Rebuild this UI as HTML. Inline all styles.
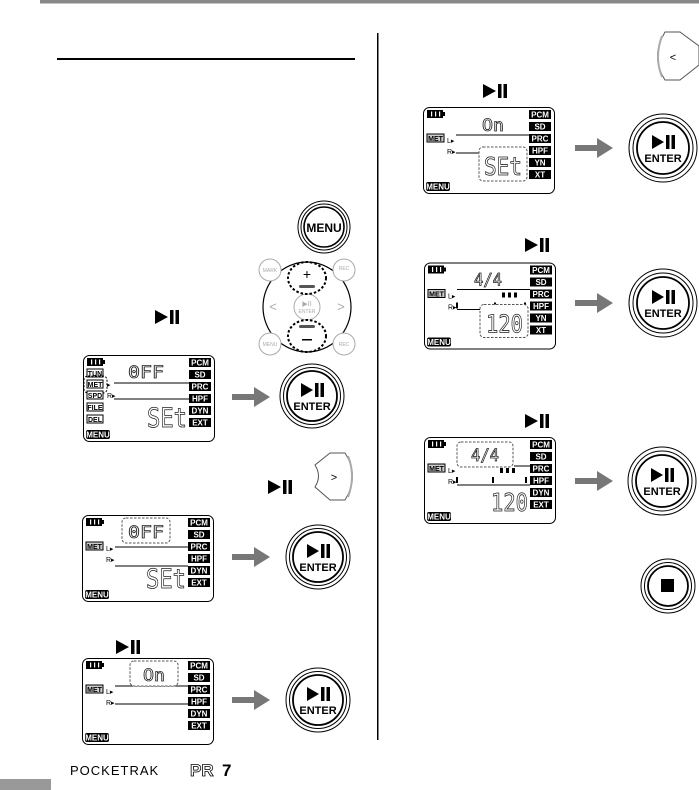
<!DOCTYPE html>
<html><head><meta charset="utf-8"><style>
html,body{margin:0;padding:0;background:#fff}
svg{display:block}
text{font-family:"Liberation Sans",Arial,sans-serif}
.lb{fill:#fff;font-size:8px;font-weight:bold;text-anchor:middle}
.seg{font-family:"DejaVu Sans Mono","Liberation Mono",monospace;fill:#fff;stroke:#222;stroke-width:0.8}
.en{font-size:11px;font-weight:bold;text-anchor:middle}
</style></head><body>
<svg width="699" height="790" viewBox="0 0 699 790" xmlns="http://www.w3.org/2000/svg">
<defs>
<g id="arr"><rect x="0" y="-3" width="26" height="6" fill="#777"/><polygon points="22,-10 38,0 22,10" fill="#777"/></g>
</defs>
<rect x="40" y="0" width="659" height="3.5" fill="#888"/>
<rect x="57" y="58" width="298" height="2" fill="#000"/>
<rect x="377" y="33" width="1.5" height="707" fill="#000"/>
<rect x="0" y="779" width="51" height="11" fill="#999"/>
<text x="70" y="775" font-size="13" letter-spacing="1">POCKETRAK</text>
<text x="190" y="776" font-size="17" font-weight="bold" fill="#fff" stroke="#000" stroke-width="0.8">PR</text><text x="222" y="776" font-size="17" font-weight="bold">7</text>

<!-- MENU button -->
<circle cx="324" cy="227" r="26" fill="#fff" stroke="#000" stroke-width="1"/>
<circle cx="324" cy="227" r="23" fill="none" stroke="#000" stroke-width="1"/>
<circle cx="324" cy="227" r="20" fill="none" stroke="#000" stroke-width="1.6"/>
<text x="324" y="232" font-size="12" font-weight="bold" text-anchor="middle">MENU</text>

<!-- pad -->
<g>
<ellipse cx="307" cy="307" rx="44" ry="45" fill="#fff" stroke="#000" stroke-width="1.2"/>
<circle cx="270" cy="270" r="11" fill="#fff" stroke="#aaa"/><text x="270" y="272" font-size="5" fill="#aaa" text-anchor="middle">MARK</text>
<circle cx="344" cy="270" r="11" fill="#fff" stroke="#aaa"/><text x="344" y="270" font-size="5" fill="#aaa" text-anchor="middle">REC</text>
<circle cx="270" cy="344" r="11" fill="#fff" stroke="#aaa"/><text x="270" y="346" font-size="5" fill="#aaa" text-anchor="middle">MENU</text>
<circle cx="344" cy="344" r="11" fill="#fff" stroke="#aaa"/><text x="344" y="346" font-size="5" fill="#aaa" text-anchor="middle">REC</text>
<circle cx="307" cy="307" r="13" fill="#fff" stroke="#aaa"/>
<text x="307" y="306" font-size="7" fill="#aaa" text-anchor="middle">▶II</text><text x="307" y="313" font-size="5" fill="#aaa" text-anchor="middle">ENTER</text>
<text x="273" y="311" font-size="13" fill="#aaa" text-anchor="middle">&lt;</text>
<text x="341" y="311" font-size="13" fill="#aaa" text-anchor="middle">&gt;</text>
<ellipse cx="307" cy="278" rx="19" ry="16" fill="none" stroke="#000" stroke-width="2" stroke-dasharray="2.5,2"/>
<ellipse cx="307" cy="336" rx="19" ry="16" fill="none" stroke="#000" stroke-width="2" stroke-dasharray="2.5,2"/>
<text x="307" y="279" font-size="14" text-anchor="middle">+</text>
<rect x="299" y="285" width="16" height="3" rx="1.5" fill="#555"/>
<rect x="299" y="325" width="16" height="3" rx="1.5" fill="#555"/>
<rect x="302" y="339" width="10" height="1.5" fill="#000"/>
</g>

<!-- ENTER buttons -->
<g>
<circle cx="312" cy="396" r="32" fill="#fff" stroke="#000"/><circle cx="312" cy="396" r="28.5" fill="none" stroke="#000"/><circle cx="312" cy="396" r="25" fill="none" stroke="#000" stroke-width="1.8"/>
<polygon points="301,383 313,390 301,397" fill="#000"/><rect x="315" y="383" width="3.5" height="14"/><rect x="320.5" y="383" width="3.5" height="14"/>
<text class="en" x="312" y="410">ENTER</text></g>
<g transform="translate(6,161)"><circle cx="312" cy="396" r="32" fill="#fff" stroke="#000"/><circle cx="312" cy="396" r="28.5" fill="none" stroke="#000"/><circle cx="312" cy="396" r="25" fill="none" stroke="#000" stroke-width="1.8"/>
<polygon points="301,383 313,390 301,397" fill="#000"/><rect x="315" y="383" width="3.5" height="14"/><rect x="320.5" y="383" width="3.5" height="14"/>
<text class="en" x="312" y="410">ENTER</text></g>
<g transform="translate(6,304)"><circle cx="312" cy="396" r="32" fill="#fff" stroke="#000"/><circle cx="312" cy="396" r="28.5" fill="none" stroke="#000"/><circle cx="312" cy="396" r="25" fill="none" stroke="#000" stroke-width="1.8"/>
<polygon points="301,383 313,390 301,397" fill="#000"/><rect x="315" y="383" width="3.5" height="14"/><rect x="320.5" y="383" width="3.5" height="14"/>
<text class="en" x="312" y="410">ENTER</text></g>
<g transform="translate(351,-248)"><circle cx="312" cy="396" r="34" fill="#fff" stroke="#000"/><circle cx="312" cy="396" r="30" fill="none" stroke="#000"/><circle cx="312" cy="396" r="26" fill="none" stroke="#000" stroke-width="1.8"/>
<polygon points="301,383 313,390 301,397" fill="#000"/><rect x="315" y="383" width="3.5" height="14"/><rect x="320.5" y="383" width="3.5" height="14"/>
<text class="en" x="312" y="410">ENTER</text></g>
<g transform="translate(351,-93)"><circle cx="312" cy="396" r="34" fill="#fff" stroke="#000"/><circle cx="312" cy="396" r="30" fill="none" stroke="#000"/><circle cx="312" cy="396" r="26" fill="none" stroke="#000" stroke-width="1.8"/>
<polygon points="301,383 313,390 301,397" fill="#000"/><rect x="315" y="383" width="3.5" height="14"/><rect x="320.5" y="383" width="3.5" height="14"/>
<text class="en" x="312" y="410">ENTER</text></g>
<g transform="translate(350,85)"><circle cx="312" cy="396" r="34" fill="#fff" stroke="#000"/><circle cx="312" cy="396" r="30" fill="none" stroke="#000"/><circle cx="312" cy="396" r="26" fill="none" stroke="#000" stroke-width="1.8"/>
<polygon points="301,383 313,390 301,397" fill="#000"/><rect x="315" y="383" width="3.5" height="14"/><rect x="320.5" y="383" width="3.5" height="14"/>
<text class="en" x="312" y="410">ENTER</text></g>
<!-- stop -->
<circle cx="668" cy="586" r="27" fill="#fff" stroke="#000"/><circle cx="668" cy="586" r="23.5" fill="none" stroke="#000"/><circle cx="668" cy="586" r="20" fill="none" stroke="#000" stroke-width="1.8"/>
<rect x="661" y="579" width="13" height="13" fill="#000"/>

<!-- arrows -->
<use href="#arr" x="232" y="397"/>
<use href="#arr" x="232" y="557"/>
<use href="#arr" x="232" y="700"/>
<use href="#arr" x="575" y="148"/>
<use href="#arr" x="575" y="303"/>
<use href="#arr" x="575" y="481"/>

<!-- small > and < buttons -->
<path d="M345,453 Q360,476 345,500 L330,500 L315,487 Q322,476 315,465 L330,453 Z" fill="#fff" stroke="#555"/>
<path d="M348,456 Q356,476 348,497" fill="none" stroke="#aaa" stroke-width="2"/>
<text x="334" y="481" font-size="11" text-anchor="middle">&gt;</text>
<path d="M665,32 Q650,57 665,80 L680,80 L699,65 L699,46 L680,32 Z" fill="#fff" stroke="#555"/>
<path d="M662,36 Q654,57 662,77" fill="none" stroke="#aaa" stroke-width="2"/>
<text x="673" y="61" font-size="11" text-anchor="middle">&lt;</text>

<!-- ▶II marks -->
<g fill="#000">
<polygon points="155,310 168,317 155,324"/><rect x="170" y="310" width="3.5" height="14"/><rect x="175.5" y="310" width="3.5" height="14"/>
<polygon points="268,480 281,487 268,494"/><rect x="283" y="480" width="3.5" height="14"/><rect x="288.5" y="480" width="3.5" height="14"/>
<polygon points="116,640 129,647 116,654"/><rect x="131" y="640" width="3.5" height="14"/><rect x="136.5" y="640" width="3.5" height="14"/>
<polygon points="483,84 496,91 483,98"/><rect x="498" y="84" width="3.5" height="14"/><rect x="503.5" y="84" width="3.5" height="14"/>
<polygon points="525,238 538,245 525,252"/><rect x="540" y="238" width="3.5" height="14"/><rect x="545.5" y="238" width="3.5" height="14"/>
<polygon points="525,414 538,421 525,428"/><rect x="540" y="414" width="3.5" height="14"/><rect x="545.5" y="414" width="3.5" height="14"/>
</g>

<!-- LCD 1 -->
<svg x="83" y="355" width="132" height="87" viewBox="0 0 132 87">
<rect x="0.5" y="0.5" width="131" height="86" rx="6" fill="#fff" stroke="#000"/>
<rect x="4" y="3" width="16" height="8"/><rect x="20" y="5" width="2" height="4"/><rect x="8" y="4.5" width="1.2" height="5" fill="#fff"/><rect x="12" y="4.5" width="1.2" height="5" fill="#fff"/><rect x="16" y="4.5" width="1.2" height="5" fill="#fff"/>
<rect x="4" y="14" width="16" height="8" fill="#fff" stroke="#000"/><text x="12" y="21" font-size="7" text-anchor="middle" font-weight="bold">TUN</text>
<rect x="4" y="25" width="16" height="8" fill="#fff" stroke="#000"/><text x="12" y="32" font-size="7" text-anchor="middle" font-weight="bold">MET</text>
<rect x="1" y="21" width="23" height="17" rx="4" fill="none" stroke="#000" stroke-dasharray="2,1.5"/>
<rect x="4" y="36" width="16" height="8" fill="#fff" stroke="#000"/><text x="12" y="43" font-size="7" text-anchor="middle" font-weight="bold">SPD</text>
<rect x="4" y="48" width="16" height="8" fill="#fff" stroke="#000"/><text x="12" y="55" font-size="7" text-anchor="middle" font-weight="bold">FILE</text>
<rect x="4" y="60" width="16" height="8" fill="#fff" stroke="#000"/><text x="12" y="67" font-size="7" text-anchor="middle" font-weight="bold">DEL</text>
<rect x="3" y="75" width="24" height="9" rx="2"/><text class="lb" x="15" y="82.5">MENU</text>
<text x="24" y="43" font-size="7">R▸</text><text x="24" y="32" font-size="7">▸</text>
<line x1="31" y1="28" x2="106" y2="28" stroke="#000"/><line x1="31" y1="44" x2="106" y2="44" stroke="#000"/>
<text class="seg" x="45" y="23" font-size="17" textLength="36" lengthAdjust="spacingAndGlyphs">0FF</text>
<text class="seg" x="64" y="72" font-size="27" textLength="40" lengthAdjust="spacingAndGlyphs">SEt</text>
<g><rect x="106" y="3" width="22" height="9"/><text class="lb" x="117" y="10.5">PCM</text>
<rect x="106" y="15" width="22" height="9"/><text class="lb" x="117" y="22.5">SD</text>
<rect x="106" y="27" width="22" height="9"/><text class="lb" x="117" y="34.5">PRC</text>
<rect x="106" y="39" width="22" height="9"/><text class="lb" x="117" y="46.5">HPF</text>
<rect x="106" y="51" width="22" height="9"/><text class="lb" x="117" y="58.5">DYN</text>
<rect x="106" y="63" width="22" height="9"/><text class="lb" x="117" y="70.5">EXT</text></g>
</svg>

<!-- LCD 2 -->
<svg x="82" y="515" width="132" height="87" viewBox="0 0 132 87">
<rect x="0.5" y="0.5" width="131" height="86" rx="6" fill="#fff" stroke="#000"/>
<rect x="4" y="3" width="16" height="8"/><rect x="20" y="5" width="2" height="4"/><rect x="8" y="4.5" width="1.2" height="5" fill="#fff"/><rect x="12" y="4.5" width="1.2" height="5" fill="#fff"/><rect x="16" y="4.5" width="1.2" height="5" fill="#fff"/>
<rect x="4" y="27" width="17" height="8" fill="#ccc" stroke="#000"/><text x="12.5" y="34" font-size="7" text-anchor="middle" font-weight="bold">MET</text>
<rect x="3" y="75" width="24" height="9" rx="2"/><text class="lb" x="15" y="82.5">MENU</text>
<text x="24" y="36" font-size="7">L▸</text><text x="24" y="47" font-size="7">R▸</text>
<line x1="33" y1="32" x2="106" y2="32" stroke="#000"/><line x1="33" y1="51" x2="106" y2="51" stroke="#000"/>
<rect x="40" y="3" width="48" height="25" rx="4" fill="#fff" stroke="#555" stroke-dasharray="2.5,1.5"/>
<text class="seg" x="46" y="23" font-size="17" textLength="36" lengthAdjust="spacingAndGlyphs">0FF</text>
<text class="seg" x="64" y="73" font-size="27" textLength="40" lengthAdjust="spacingAndGlyphs">SEt</text>
<g><rect x="106" y="3" width="22" height="9"/><text class="lb" x="117" y="10.5">PCM</text>
<rect x="106" y="15" width="22" height="9"/><text class="lb" x="117" y="22.5">SD</text>
<rect x="106" y="27" width="22" height="9"/><text class="lb" x="117" y="34.5">PRC</text>
<rect x="106" y="39" width="22" height="9"/><text class="lb" x="117" y="46.5">HPF</text>
<rect x="106" y="51" width="22" height="9"/><text class="lb" x="117" y="58.5">DYN</text>
<rect x="106" y="63" width="22" height="9"/><text class="lb" x="117" y="70.5">EXT</text></g>
</svg>

<!-- LCD 3 -->
<svg x="82" y="658" width="132" height="87" viewBox="0 0 132 87">
<rect x="0.5" y="0.5" width="131" height="86" rx="6" fill="#fff" stroke="#000"/>
<rect x="4" y="3" width="16" height="8"/><rect x="20" y="5" width="2" height="4"/><rect x="8" y="4.5" width="1.2" height="5" fill="#fff"/><rect x="12" y="4.5" width="1.2" height="5" fill="#fff"/><rect x="16" y="4.5" width="1.2" height="5" fill="#fff"/>
<rect x="4" y="27" width="17" height="8" fill="#ccc" stroke="#000"/><text x="12.5" y="34" font-size="7" text-anchor="middle" font-weight="bold">MET</text>
<rect x="3" y="75" width="24" height="9" rx="2"/><text class="lb" x="15" y="82.5">MENU</text>
<text x="24" y="36" font-size="7">L▸</text><text x="24" y="47" font-size="7">R▸</text>
<line x1="33" y1="28" x2="106" y2="28" stroke="#000"/><line x1="33" y1="46" x2="106" y2="46" stroke="#000"/>
<rect x="48" y="3" width="48" height="25" rx="4" fill="#fff" stroke="#555" stroke-dasharray="2.5,1.5"/>
<text class="seg" x="61" y="23" font-size="17" textLength="22" lengthAdjust="spacingAndGlyphs">On</text>
<g><rect x="106" y="3" width="22" height="9"/><text class="lb" x="117" y="10.5">PCM</text>
<rect x="106" y="15" width="22" height="9"/><text class="lb" x="117" y="22.5">SD</text>
<rect x="106" y="27" width="22" height="9"/><text class="lb" x="117" y="34.5">PRC</text>
<rect x="106" y="39" width="22" height="9"/><text class="lb" x="117" y="46.5">HPF</text>
<rect x="106" y="51" width="22" height="9"/><text class="lb" x="117" y="58.5">DYN</text>
<rect x="106" y="63" width="22" height="9"/><text class="lb" x="117" y="70.5">EXT</text></g>
</svg>

<!-- LCD 4 -->
<svg x="423" y="107" width="132" height="87" viewBox="0 0 132 87">
<rect x="0.5" y="0.5" width="131" height="86" rx="6" fill="#fff" stroke="#000"/>
<rect x="4" y="3" width="16" height="8"/><rect x="20" y="5" width="2" height="4"/><rect x="8" y="4.5" width="1.2" height="5" fill="#fff"/><rect x="12" y="4.5" width="1.2" height="5" fill="#fff"/><rect x="16" y="4.5" width="1.2" height="5" fill="#fff"/>
<rect x="4" y="27" width="17" height="8" fill="#ccc" stroke="#000"/><text x="12.5" y="34" font-size="7" text-anchor="middle" font-weight="bold">MET</text>
<rect x="3" y="75" width="24" height="9" rx="2"/><text class="lb" x="15" y="82.5">MENU</text>
<text x="24" y="36" font-size="7">L▸</text><text x="24" y="47" font-size="7">R▸</text>
<line x1="33" y1="28" x2="106" y2="28" stroke="#000"/><line x1="33" y1="46" x2="56" y2="46" stroke="#000"/>
<text class="seg" x="59" y="24" font-size="17" textLength="22" lengthAdjust="spacingAndGlyphs">On</text>
<rect x="56" y="40" width="48" height="34" rx="4" fill="#fff" stroke="#555" stroke-dasharray="2.5,1.5"/>
<text class="seg" x="61" y="68" font-size="25" textLength="38" lengthAdjust="spacingAndGlyphs">SEt</text>
<g><rect x="106" y="3" width="22" height="9"/><text class="lb" x="117" y="10.5">PCM</text>
<rect x="106" y="15" width="22" height="9"/><text class="lb" x="117" y="22.5">SD</text>
<rect x="106" y="27" width="22" height="9"/><text class="lb" x="117" y="34.5">PRC</text>
<rect x="106" y="39" width="22" height="9"/><text class="lb" x="117" y="46.5">HPF</text>
<rect x="106" y="51" width="22" height="9"/><text class="lb" x="117" y="58.5">YN</text>
<rect x="106" y="63" width="22" height="9"/><text class="lb" x="117" y="70.5">XT</text></g>
</svg>

<!-- LCD 5 -->
<svg x="424" y="262" width="132" height="88" viewBox="0 0 132 87">
<rect x="0.5" y="0.5" width="131" height="86" rx="6" fill="#fff" stroke="#000"/>
<rect x="4" y="3" width="16" height="8"/><rect x="20" y="5" width="2" height="4"/><rect x="8" y="4.5" width="1.2" height="5" fill="#fff"/><rect x="12" y="4.5" width="1.2" height="5" fill="#fff"/><rect x="16" y="4.5" width="1.2" height="5" fill="#fff"/>
<rect x="4" y="27" width="17" height="8" fill="#ccc" stroke="#000"/><text x="12.5" y="34" font-size="7" text-anchor="middle" font-weight="bold">MET</text>
<rect x="3" y="75" width="24" height="9" rx="2"/><text class="lb" x="15" y="82.5">MENU</text>
<text x="24" y="36" font-size="7">L▸</text><text x="24" y="47" font-size="7">R▸</text>
<rect x="32" y="40" width="2" height="6"/><rect x="70" y="40" width="2" height="3"/><rect x="100" y="40" width="2" height="3"/>
<rect x="78" y="30" width="3" height="5"/><rect x="84" y="30" width="3" height="5"/><rect x="90" y="30" width="3" height="5"/>
<line x1="33" y1="27" x2="106" y2="27" stroke="#000"/><line x1="33" y1="47" x2="56" y2="47" stroke="#000"/>
<text class="seg" x="50" y="23" font-size="17" textLength="28" lengthAdjust="spacingAndGlyphs">4/4</text>
<rect x="56" y="42" width="48" height="33" rx="4" fill="#fff" stroke="#555" stroke-dasharray="2.5,1.5"/>
<text class="seg" x="62" y="70" font-size="25" textLength="37" lengthAdjust="spacingAndGlyphs">120</text>
<g><rect x="106" y="3" width="22" height="9"/><text class="lb" x="117" y="10.5">PCM</text>
<rect x="106" y="15" width="22" height="9"/><text class="lb" x="117" y="22.5">SD</text>
<rect x="106" y="27" width="22" height="9"/><text class="lb" x="117" y="34.5">PRC</text>
<rect x="106" y="39" width="22" height="9"/><text class="lb" x="117" y="46.5">HPF</text>
<rect x="106" y="51" width="22" height="9"/><text class="lb" x="117" y="58.5">YN</text>
<rect x="106" y="63" width="22" height="9"/><text class="lb" x="117" y="70.5">XT</text></g>
</svg>

<!-- LCD 6 -->
<svg x="424" y="437" width="132" height="87" viewBox="0 0 132 87">
<rect x="0.5" y="0.5" width="131" height="86" rx="6" fill="#fff" stroke="#000"/>
<rect x="4" y="3" width="16" height="8"/><rect x="20" y="5" width="2" height="4"/><rect x="8" y="4.5" width="1.2" height="5" fill="#fff"/><rect x="12" y="4.5" width="1.2" height="5" fill="#fff"/><rect x="16" y="4.5" width="1.2" height="5" fill="#fff"/>
<rect x="4" y="27" width="17" height="8" fill="#ccc" stroke="#000"/><text x="12.5" y="34" font-size="7" text-anchor="middle" font-weight="bold">MET</text>
<rect x="3" y="75" width="24" height="9" rx="2"/><text class="lb" x="15" y="82.5">MENU</text>
<text x="24" y="36" font-size="7">L▸</text><text x="24" y="47" font-size="7">R▸</text>
<rect x="32" y="40" width="2" height="6"/><rect x="68" y="40" width="2" height="6"/><rect x="101" y="40" width="2" height="6"/>
<rect x="76" y="31" width="3" height="5"/><rect x="82" y="31" width="3" height="5"/><rect x="88" y="31" width="3" height="5"/>
<line x1="90" y1="29" x2="106" y2="29" stroke="#000"/><line x1="33" y1="48" x2="106" y2="48" stroke="#000"/>
<rect x="33" y="5" width="56" height="25" rx="4" fill="#fff" stroke="#555" stroke-dasharray="2.5,1.5"/>
<text class="seg" x="47" y="24" font-size="17" textLength="28" lengthAdjust="spacingAndGlyphs">4/4</text>
<text class="seg" x="67" y="74" font-size="25" textLength="37" lengthAdjust="spacingAndGlyphs">120</text>
<g><rect x="106" y="3" width="22" height="9"/><text class="lb" x="117" y="10.5">PCM</text>
<rect x="106" y="15" width="22" height="9"/><text class="lb" x="117" y="22.5">SD</text>
<rect x="106" y="27" width="22" height="9"/><text class="lb" x="117" y="34.5">PRC</text>
<rect x="106" y="39" width="22" height="9"/><text class="lb" x="117" y="46.5">HPF</text>
<rect x="106" y="51" width="22" height="9"/><text class="lb" x="117" y="58.5">DYN</text>
<rect x="106" y="63" width="22" height="9"/><text class="lb" x="117" y="70.5">EXT</text></g>
</svg>
</svg>
</body></html>
